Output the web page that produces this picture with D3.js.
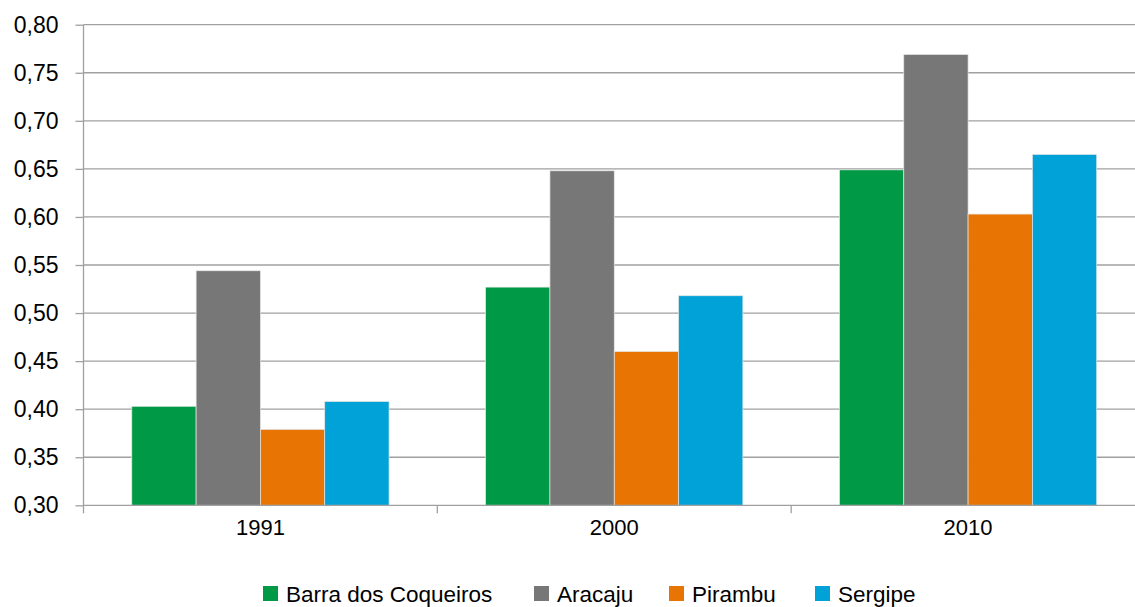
<!DOCTYPE html>
<head>
<meta charset="utf-8">
<style>
body, html {
  margin: 0;
  padding: 0;
  background: #fff;
  font-family: "Liberation Sans", arial;
}
.grid line {
  stroke: #a0a0a0;
  stroke-width: 1.3;
}
.axis text {
  fill: #000;
}
</style>
<script src="https://d3js.org/d3.v7.min.js"></script>
</head>
<body>
<div id="chart"></div>
<script>

// data
var years = ["1991", "2000", "2010"];
var series = ["Barra dos Coqueiros", "Aracaju", "Pirambu", "Sergipe"];
var barra = [0.403, 0.527, 0.649];
var aracaju = [0.544, 0.648, 0.769];
var pirambu = [0.379, 0.460, 0.603];
var sergipe = [0.408, 0.518, 0.665];
var yTicks = [0.30, 0.35, 0.40, 0.45, 0.50, 0.55, 0.60, 0.65, 0.70, 0.75, 0.80];
var colors = ["#009a46", "#777777", "#e87503", "#00a2d7"];

var values = [barra, aracaju, pirambu, sergipe];

var width = 1135,
    height = 607,
    margin = {top: 24.7, left: 83.5, bottom: 101.7},
    plotRight = 1145;

var svg = d3.select("#chart").append("svg")
    .attr("width", width)
    .attr("height", height);

var x = d3.scaleBand()
    .domain(years)
    .range([margin.left, plotRight]);

var xInner = d3.scaleBand()
    .domain(series)
    .range([0, x.bandwidth() * 0.727]);

var y = d3.scaleLinear()
    .domain([0.30, 0.80])
    .range([height - margin.bottom, margin.top]);

var fmt = function(d) { return d3.format(".2f")(d).replace(".", ","); };

// gridlines
svg.append("g")
    .attr("class", "grid")
    .selectAll("line")
    .data(yTicks.slice(1))
    .enter().append("line")
    .attr("x1", margin.left)
    .attr("x2", plotRight)
    .attr("y1", function(d) { return y(d); })
    .attr("y2", function(d) { return y(d); });

// bars
var offset = (x.bandwidth() - xInner.range()[1]) / 2;
series.forEach(function(s, i) {
  svg.append("g")
    .selectAll("rect")
    .data(values[i])
    .enter().append("rect")
    .attr("x", function(d, j) { return x(years[j]) + offset + xInner(s); })
    .attr("y", function(d) { return y(d); })
    .attr("width", xInner.bandwidth())
    .attr("height", function(d) { return y(0.30) - y(d); })
    .attr("fill", colors[i])
    .attr("stroke", "#e6e6e6")
    .attr("stroke-width", 0.7);
});

// y axis
var yAxis = d3.axisLeft(y)
    .tickValues(yTicks)
    .tickSize(8)
    .tickPadding(17)
    .tickFormat(fmt);

var gy = svg.append("g")
    .attr("class", "axis")
    .attr("transform", "translate(" + margin.left + ",0)")
    .call(yAxis);
gy.selectAll("line, path").attr("stroke", "#a0a0a0").attr("stroke-width", 1.3);
gy.select(".domain").attr("d", "M0," + y(0.30) + "V" + y(0.80));
gy.selectAll("text")
    .style("font-size", "23px")
    .style("font-family", "Liberation Sans");

// x axis
var xAxis = d3.axisBottom(x).tickSize(0).tickPadding(14);
var gx = svg.append("g")
    .attr("class", "axis")
    .attr("transform", "translate(0," + y(0.30) + ")")
    .call(xAxis);
gx.select(".domain").attr("stroke", "#a0a0a0").attr("stroke-width", 1.3)
    .attr("d", "M" + margin.left + ",0H" + plotRight);
gx.selectAll("text")
    .style("font-size", "22px")
    .style("font-family", "Liberation Sans");

// category separators
var seps = [x(years[0])].concat(years.map(function(d) { return x(d) + x.bandwidth(); }));
svg.append("g")
    .selectAll("line")
    .data(seps)
    .enter().append("line")
    .attr("x1", function(d) { return d; })
    .attr("x2", function(d) { return d; })
    .attr("y1", y(0.30))
    .attr("y2", y(0.30) + 8)
    .attr("stroke", "#a0a0a0")
    .attr("stroke-width", 1.3);

// legend
var legendX = [263, 534, 669, 815];
var legend = svg.append("g").attr("class", "legend");
series.forEach(function(s, i) {
  var g = legend.append("g")
    .attr("transform", "translate(" + legendX[i] + ",586)");
  g.append("rect")
    .attr("width", 15)
    .attr("height", 15)
    .attr("fill", colors[i]);
  g.append("text")
    .attr("x", 23)
    .attr("y", 15.5)
    .style("font-size", "22.5px")
    .style("font-family", "Liberation Sans")
    .text(s);
});

</script>
</body>
</html>
